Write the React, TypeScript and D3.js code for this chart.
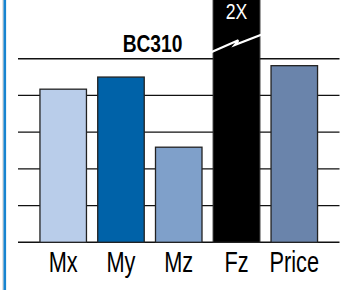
import React, { useEffect, useRef } from 'react';
import * as d3 from 'd3';

// categories and values (relative units)
const categories = ['Mx', 'My', 'Mz', 'Fz', 'Price'];
const values = [4.17, 4.5, 2.59, 6.8, 4.81];
const colors = ['#b9cdea', '#0062a8', '#7fa0ca', '#000000', '#6a84ab'];
const gridTicks = [0, 1, 2, 3, 4, 5];
const seriesLabel = 'BC310';
const breakLabel = '2X';

const App = () => {
  const chartRef = useRef(null);

  useEffect(() => {
    const width = 343;
    const height = 290;
    const font = 'Liberation Sans, Arial, sans-serif';

    const svg = d3.select(chartRef.current)
      .attr('width', width)
      .attr('height', height);
    svg.selectAll('*').remove();

    const x = d3.scaleBand()
      .domain(categories)
      .range([18, 339.5])
      .paddingInner(0.195)
      .paddingOuter(0.38);

    const y = d3.scaleLinear()
      .domain([0, 5])
      .range([242.3, 58.7]);

    // left blue rule
    svg.append('rect')
      .attr('x', 2.5).attr('y', 0)
      .attr('width', 1).attr('height', height)
      .attr('fill', '#c8c8c8');
    svg.append('rect')
      .attr('x', 3.5).attr('y', 0)
      .attr('width', 2.6).attr('height', height)
      .attr('fill', '#1784d0');

    // gridlines
    svg.append('g')
      .selectAll('line')
      .data(gridTicks)
      .join('line')
      .attr('x1', 18)
      .attr('x2', 339.5)
      .attr('y1', d => y(d))
      .attr('y2', d => y(d))
      .attr('stroke', '#111')
      .attr('stroke-width', 1.4);

    // bars
    svg.append('g')
      .selectAll('rect')
      .data(values)
      .join('rect')
      .attr('x', (d, i) => x(categories[i]))
      .attr('y', d => y(d))
      .attr('width', x.bandwidth())
      .attr('height', d => y(0) - y(d))
      .attr('fill', (d, i) => colors[i])
      .attr('stroke', '#222')
      .attr('stroke-width', 1.3);

    // break mark on Fz
    const fx = x('Fz');
    const bw = x.bandwidth();
    const zig = d3.line()([
      [fx - 4.5, y(5.15)],
      [fx + bw * 0.54, y(5.5)],
      [fx + bw * 0.46, y(5.37)],
      [fx + bw + 4, y(5.68)]
    ]);
    svg.append('path')
      .attr('d', zig)
      .attr('fill', 'none')
      .attr('stroke', '#fff')
      .attr('stroke-width', 2.2);

    svg.append('text')
      .attr('transform', `translate(${fx + bw / 2},${y(6.07)}) scale(0.82,1)`)
      .attr('text-anchor', 'middle')
      .attr('font-family', font)
      .attr('font-size', 21.5)
      .attr('fill', '#fff')
      .text(breakLabel);

    // series label
    svg.append('text')
      .attr('transform', `translate(152.5,${y(5.17)}) scale(0.8,1)`)
      .attr('text-anchor', 'middle')
      .attr('font-family', font)
      .attr('font-weight', 'bold')
      .attr('font-size', 24)
      .attr('fill', '#000')
      .text(seriesLabel);

    // category labels
    svg.append('g')
      .selectAll('text')
      .data(categories)
      .join('text')
      .attr('transform', d => `translate(${x(d) + bw / 2},272) scale(0.75,1)`)
      .attr('text-anchor', 'middle')
      .attr('font-family', font)
      .attr('font-size', 29)
      .attr('fill', '#000')
      .text(d => d);
  }, []);

  return (
    <svg ref={chartRef} style={{ position: 'absolute', left: 0, top: 0 }}></svg>
  );
};

export default App;
